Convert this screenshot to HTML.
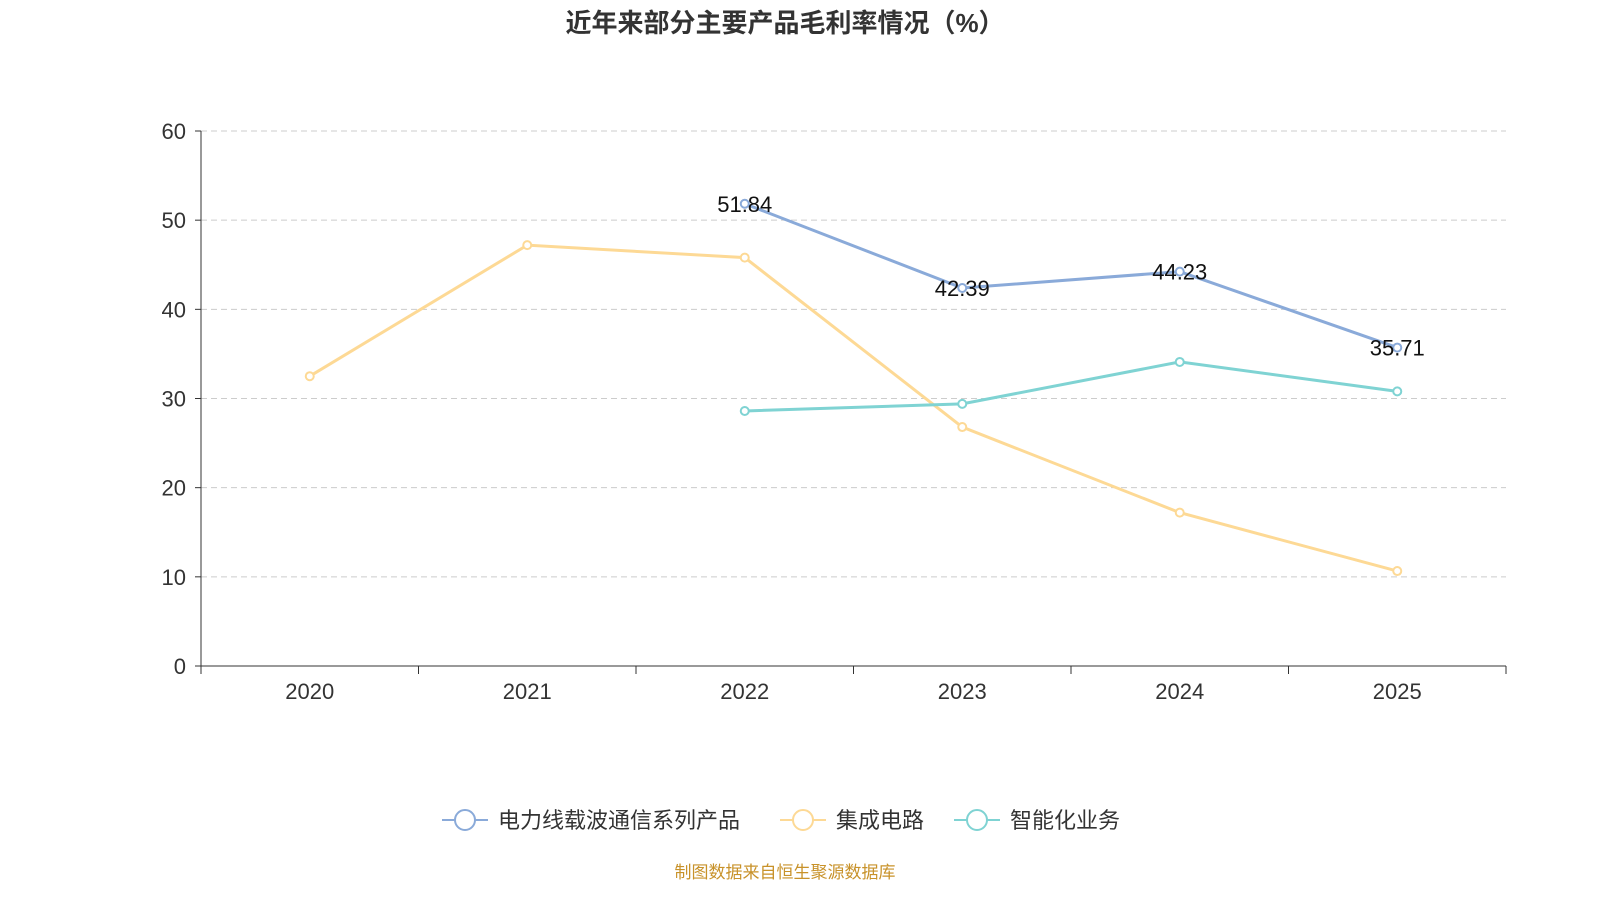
<!DOCTYPE html>
<html><head><meta charset="utf-8">
<style>
html,body{margin:0;padding:0;background:#fff;}
body{width:1600px;height:900px;overflow:hidden;font-family:"Liberation Sans","Noto Sans CJK SC",sans-serif;}
</style></head>
<body>
<svg id="chart" width="1600" height="900" xmlns="http://www.w3.org/2000/svg" style="font-family:'Liberation Sans','Noto Sans CJK SC',sans-serif">
<text x="785" y="32" text-anchor="middle" font-size="26" font-weight="bold" fill="#333">近年来部分主要产品毛利率情况（%）</text>
<g id="grid"></g><g id="axes"></g><g id="series"></g>
<g font-size="22" fill="#333">
 <g><line x1="442" y1="820" x2="488" y2="820" stroke="#8aaad9" stroke-width="2"/><circle cx="465" cy="820" r="10" fill="#fff" stroke="#8aaad9" stroke-width="2"/><text x="498" y="828">电力线载波通信系列产品</text></g>
 <g><line x1="780" y1="820" x2="826" y2="820" stroke="#fdd995" stroke-width="2"/><circle cx="803" cy="820" r="10" fill="#fff" stroke="#fdd995" stroke-width="2"/><text x="836" y="828">集成电路</text></g>
 <g><line x1="954" y1="820" x2="1000" y2="820" stroke="#7fd3d3" stroke-width="2"/><circle cx="977" cy="820" r="10" fill="#fff" stroke="#7fd3d3" stroke-width="2"/><text x="1010" y="828">智能化业务</text></g>
</g>
<text x="785" y="878" text-anchor="middle" font-size="17" fill="#c8922a">制图数据来自恒生聚源数据库</text>
</svg>
<script>
const categories=["2020","2021","2022","2023","2024","2025"];
const yTicks=[0,10,20,30,40,50,60];
const powerLine=[null,null,51.84,42.39,44.23,35.71];
const ic=[32.5,47.2,45.8,26.8,17.2,10.65];
const smart=[null,null,28.6,29.4,34.1,30.8];
const L=201,R=1506,T=131,B=666,yMax=60;
const NS="http://www.w3.org/2000/svg";
const bw=(R-L)/categories.length;
const xS=i=>L+bw*(i+0.5);
const yS=v=>B-(v/yMax)*(B-T);
function mk(tag,attrs,parent){const e=document.createElementNS(NS,tag);for(const k in attrs)e.setAttribute(k,attrs[k]);parent.appendChild(e);return e;}
const grid=document.getElementById('grid'),axes=document.getElementById('axes'),ser=document.getElementById('series');
yTicks.forEach(t=>{
 if(t>0){const g=mk('line',{x1:L,x2:R,y1:yS(t),y2:yS(t),stroke:'#ccc','stroke-dasharray':'6,4'},grid);
 
 }
 const tx=mk('text',{x:L-15,y:yS(t)+8,'text-anchor':'end','font-size':22,fill:'#333'},axes);tx.textContent=t;
 
 
 mk('line',{x1:L-6,x2:L,y1:yS(t),y2:yS(t),stroke:'#333'},axes);
});
const ya=mk('line',{x1:L,x2:L,y1:T,y2:B,stroke:'#333'},axes);


const xa=mk('line',{x1:L,x2:R,y1:B,y2:B,stroke:'#333'},axes);


for(let i=0;i<=categories.length;i++)mk('line',{x1:L+bw*i,x2:L+bw*i,y1:B,y2:B+8,stroke:'#333'},axes);
categories.forEach((c,i)=>{const t=mk('text',{x:xS(i),y:B+33,'text-anchor':'middle','font-size':22,fill:'#333'},axes);t.textContent=c;
 
 });
function draw(vals,color,name,labels){
 const g=mk('g',{},ser);
 
 
 const pts=[];vals.forEach((v,i)=>{if(v!==null)pts.push([xS(i),yS(v),v]);});
 mk('polyline',{points:pts.map(p=>p[0]+','+p[1]).join(' '),fill:'none',stroke:color,'stroke-width':3},g);
 pts.forEach(p=>{const c=mk('circle',{cx:p[0],cy:p[1],r:4,fill:'#fff',stroke:color,'stroke-width':2},g);
  
  
  if(labels){const t=mk('text',{x:p[0],y:p[1]+8,'text-anchor':'middle','font-size':22,fill:'#111'},g);t.textContent=p[2].toFixed(2);
   
   }
 });
}
draw(ic,'#fdd995','ic',false);
draw(smart,'#7fd3d3','smart',false);
draw(powerLine,'#8aaad9','power-line',true);
</script>
</body></html>
